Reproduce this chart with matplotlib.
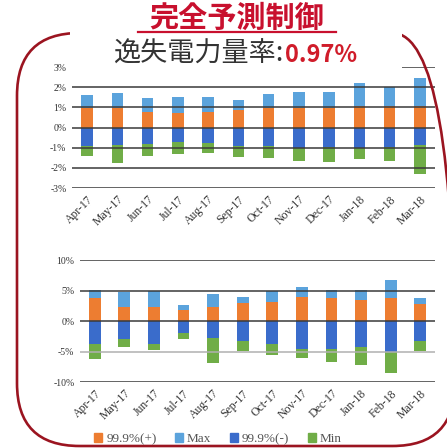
import matplotlib
matplotlib.use("Agg")
import matplotlib.pyplot as plt
from matplotlib.patches import FancyBboxPatch, Rectangle, Patch
from matplotlib.lines import Line2D

months = ["Apr-17", "May-17", "Jun-17", "Jul-17", "Aug-17", "Sep-17",
          "Oct-17", "Nov-17", "Dec-17", "Jan-18", "Feb-18", "Mar-18"]

# upper chart: error band (%)
top_p999_plus = [0.96, 0.96, 0.79, 0.71, 0.79, 0.85, 0.95, 0.95, 0.97, 1.05, 1.05, 1.05]
top_max = [1.61, 1.72, 1.45, 1.53, 1.50, 1.37, 1.64, 1.75, 1.77, 2.20, 2.00, 2.43]
top_p999_minus = [-0.94, -0.85, -0.82, -0.74, -0.77, -0.94, -0.94, -1.02, -0.95, -1.03, -0.95, -0.87]
top_min = [-1.43, -1.75, -1.39, -1.30, -1.26, -1.46, -1.52, -1.66, -1.71, -1.57, -1.65, -2.30]
top_ticks = [3, 2, 1, 0, -1, -2, -3]

# lower chart: error band (%)
bot_p999_plus = [3.7, 2.3, 2.3, 1.75, 2.3, 2.9, 3.1, 4.0, 3.8, 3.5, 3.8, 2.8]
bot_max = [5.0, 4.75, 4.9, 2.7, 4.5, 4.0, 4.85, 5.5, 5.1, 5.1, 6.8, 3.7]
bot_p999_minus = [-3.8, -2.9, -3.8, -1.9, -2.8, -3.2, -3.8, -4.55, -4.6, -4.3, -5.0, -3.3]
bot_min = [-6.3, -4.3, -4.8, -2.9, -6.9, -4.9, -5.6, -6.0, -6.7, -7.2, -8.5, -4.9]
bot_ticks = [10, 5, 0, -5, -10]

legend_labels = ["99.9%(+)", "Max", "99.9%(-)", "Min"]
c_plus, c_max, c_minus, c_min = "#ED7D31", "#5BA3DC", "#3A6CCB", "#70AD47"

SERIF = "Liberation Serif"
JP = ["Noto Sans CJK JP", "DejaVu Sans"]

W, H = 447, 448
fig = plt.figure(figsize=(W / 100, H / 100), dpi=100)
fig.patch.set_facecolor("white")


def fx(px):
    return px / W


def fy(py):
    return 1 - py / H


def draw_band(ax, plus, mx, minus, mn, ticks, width, light_lines=()):
    x = range(len(months))
    ax.bar(x, plus, width, color=c_plus, zorder=2)
    ax.bar(x, [a - b for a, b in zip(mx, plus)], width, bottom=plus, color=c_max, zorder=2)
    ax.bar(x, minus, width, color=c_minus, zorder=2)
    ax.bar(x, [a - b for a, b in zip(mn, minus)], width, bottom=minus, color=c_min, zorder=2)
    for t in ticks:
        col = "#b0b0b0" if t in light_lines else "#3a3a3a"
        ax.axhline(t, color=col, lw=1.3, zorder=3, alpha=0.85)
    ax.set_xlim(-0.5, len(months) - 0.5)
    ax.set_ylim(min(ticks), max(ticks))
    ax.set_yticks(ticks)
    ax.set_yticklabels([f"{t}%" for t in ticks], fontfamily=SERIF, fontsize=7, color="#333333")
    ax.set_xticks(list(x))
    ax.set_xticklabels(months, rotation=45, ha="right", rotation_mode="anchor",
                       fontfamily=SERIF, fontsize=8.5, color="#333333")
    ax.tick_params(length=0, pad=4)
    for s in ax.spines.values():
        s.set_visible(False)


ax1 = fig.add_axes([fx(72), fy(188), fx(435) - fx(72), fy(67) - fy(188)])
draw_band(ax1, top_p999_plus, top_max, top_p999_minus, top_min, top_ticks, 0.38)

ax2 = fig.add_axes([fx(80), fy(382), fx(435) - fx(80), fy(260) - fy(382)])
draw_band(ax2, bot_p999_plus, bot_max, bot_p999_minus, bot_min, bot_ticks, 0.4, light_lines=(-5,))

# rounded dark-red frame
frame = FancyBboxPatch((fx(17), fy(446)), fx(455) - fx(17), fy(33) - fy(446),
                       boxstyle="round,pad=0,rounding_size=0.14",
                       transform=fig.transFigure, fill=False,
                       edgecolor="#9b1420", lw=1.9, zorder=2)
fig.patches.append(frame)

# white panel behind the heading
fig.patches.append(Rectangle((fx(70), fy(73)), fx(402) - fx(70), 1 - fy(73),
                             transform=fig.transFigure, facecolor="white",
                             edgecolor="none", zorder=3))

fig.text(fx(237), fy(18), "完全予測制御", ha="center", va="center",
         fontsize=21, fontweight="bold", color="#c8102e", family=JP, zorder=4)
fig.lines.append(Line2D([fx(138), fx(336)], [fy(32), fy(32)], transform=fig.transFigure,
                        color="#c8102e", lw=1.6, zorder=4))
fig.text(fx(283), fy(54), "逸失電力量率:", ha="right", va="center",
         fontsize=19.5, color="#333333", family=JP, zorder=4)
fig.text(fx(285), fy(55), "0.97%", ha="left", va="center",
         fontsize=17, fontweight="bold", color="#d01c2a", family=JP, zorder=4)

handles = [Patch(color=c) for c in (c_plus, c_max, c_minus, c_min)]
fig.legend(handles, legend_labels, loc="center", bbox_to_anchor=(fx(218), fy(439)),
           ncol=4, frameon=False, handlelength=0.6, handleheight=0.6,
           handletextpad=0.3, columnspacing=1.4,
           prop={"family": SERIF, "size": 9.5}, labelcolor="#555555")

fig.savefig("out.png", dpi=100)
